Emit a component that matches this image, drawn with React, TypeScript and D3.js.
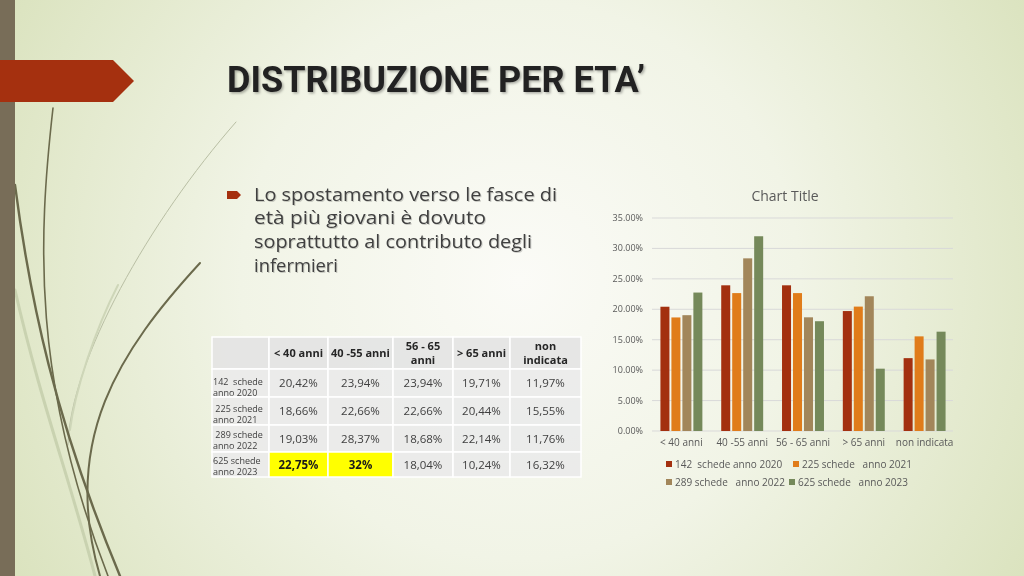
import React from "react";
import * as d3 from "d3";

const categories = ["< 40 anni", "40 -55 anni", "56 - 65 anni", "> 65 anni", "non indicata"];
const seriesNames = ["142  schede anno 2020", "225 schede   anno 2021", "289 schede   anno 2022", "625 schede   anno 2023"];
const values2020 = [20.42, 23.94, 23.94, 19.71, 11.97];
const values2021 = [18.66, 22.66, 22.66, 20.44, 15.55];
const values2022 = [19.03, 28.37, 18.68, 22.14, 11.76];
const values2023 = [22.75, 32.0, 18.04, 10.24, 16.32];
const yTicks = [0, 5, 10, 15, 20, 25, 30, 35];
const tableHeader = [["< 40 anni"], ["40 -55 anni"], ["56 - 65", "anni"], ["> 65 anni"], ["non", "indicata"]];
const tableRowLabels = [["142  schede", "anno 2020"], [" 225 schede", "anno 2021"], [" 289 schede", "anno 2022"], ["625 schede", "anno 2023"]];
const tableCells = [
  ["20,42%", "23,94%", "23,94%", "19,71%", "11,97%"],
  ["18,66%", "22,66%", "22,66%", "20,44%", "15,55%"],
  ["19,03%", "28,37%", "18,68%", "22,14%", "11,76%"],
  ["22,75%", "32%", "18,04%", "10,24%", "16,32%"],
];
const highlighted = [[3, 0], [3, 1]];
const bulletLines = ["Lo spostamento verso le fasce di", "età più giovani è dovuto", "soprattutto al contributo degli", "infermieri"];

const seriesValues = [values2020, values2021, values2022, values2023];
const colors = ["#A3300F", "#E07C1A", "#A2865A", "#75895A"];
const FONT = "'Open Sans', 'DejaVu Sans', sans-serif";

export default function App() {
  const x0 = d3.scaleBand<string>().domain(categories).range([651, 955]).paddingInner(0.31).paddingOuter(0.155);
  const x1 = d3.scaleBand<number>().domain([0, 1, 2, 3]).range([0, x0.bandwidth()]).paddingInner(0.18);
  const y = d3.scaleLinear().domain([0, 35]).range([431, 218]);
  const fmt = d3.format(".2f");

  const colX = [212, 269, 328, 393, 453, 510, 581];
  const rowY = [337, 369, 397, 425, 452, 477];
  const bulletLens = [303, 232, 278, 84];
  const bulletBase = [201, 224, 248, 272];
  const labelBase = [[385, 396], [412, 423], [438, 449], [464, 475]];

  const legendPos = [
    [666, 464],
    [793, 464],
    [666, 482],
    [789, 482],
  ];

  return (
    <svg width={1024} height={576} style={{ position: "fixed", left: 0, top: 0 }} fontFamily={FONT}>
      <defs>
        <radialGradient id="bg" cx="520" cy="280" r="620" gradientUnits="userSpaceOnUse">
          <stop offset="0" stopColor="#FBFBF7" />
          <stop offset="0.45" stopColor="#F1F4E6" />
          <stop offset="1" stopColor="#D8E1BA" />
        </radialGradient>
        <filter id="tshadow" x="-5%" y="-20%" width="110%" height="140%">
          <feDropShadow dx="1.5" dy="1.5" stdDeviation="0.8" floodColor="#000" floodOpacity="0.3" />
        </filter>
        <filter id="sshadow" x="-5%" y="-20%" width="110%" height="140%">
          <feDropShadow dx="1" dy="1" stdDeviation="0.6" floodColor="#000" floodOpacity="0.18" />
        </filter>
      </defs>
      <rect x={0} y={0} width={1024} height={576} fill="url(#bg)" />

      {/* plant decoration */}
      <g fill="none" strokeLinecap="round">
        <path d="M 15 290 C 40 400, 70 480, 95 576" stroke="#C9D2B0" strokeWidth={3} />
        <path d="M 236 122 C 150 220, 70 360, 68 445" stroke="#B9BFA4" strokeWidth={1} />
        <path d="M 118 285 C 95 330, 75 390, 70 430" stroke="#CED6B8" strokeWidth={2} />
        <path d="M 53 108 C 38 240, 32 380, 108 576" stroke="#6B6A4C" strokeWidth={1.6} />
        <path d="M 15 185 C 30 300, 55 420, 120 576" stroke="#6B6A4C" strokeWidth={2.4} />
        <path d="M 200 263 C 120 350, 60 440, 100 576" stroke="#6B6A4C" strokeWidth={2} />
      </g>

      {/* left bar and red arrow */}
      <rect x={0} y={0} width={15} height={576} fill="#786D58" />
      <path d="M 0 60 L 113 60 L 134 81 L 113 102 L 0 102 Z" fill="#A5300F" />

      {/* title */}
      <text x={227} y={92} fontSize={37} fontWeight={700} fill="#242424" filter="url(#tshadow)"
        textLength={418} lengthAdjust="spacingAndGlyphs" fontFamily="Roboto, 'DejaVu Sans', sans-serif">
        DISTRIBUZIONE PER ETA’
      </text>

      {/* bullet */}
      <path d="M 227 191 L 237 191 L 241 195 L 237 199 L 227 199 Z" fill="#A5300F" />
      {bulletLines.map((l, i) => (
        <text key={i} x={254} y={bulletBase[i]} fontSize={18} fill="#404040" filter="url(#sshadow)"
          textLength={bulletLens[i]} lengthAdjust="spacingAndGlyphs">
          {l}
        </text>
      ))}

      {/* table */}
      <g>
        {rowY.slice(0, -1).map((ry, r) =>
          colX.slice(0, -1).map((cx, c) => {
            const hl = r > 0 && highlighted.some(([hr, hc]) => hr === r - 1 && hc === c - 1);
            return (
              <rect key={`${r}-${c}`} x={cx} y={ry} width={colX[c + 1] - cx} height={rowY[r + 1] - ry}
                fill={hl ? "#FFFF00" : r === 0 ? "#E3E3E3" : "#EAEAEA"} fillOpacity={hl ? 1 : 0.9}
                stroke="#FFFFFF" strokeWidth={1.5} />
            );
          })
        )}
        {tableHeader.map((lines, c) => {
          const cx = (colX[c + 1] + colX[c + 2]) / 2;
          const mid = (rowY[0] + rowY[1]) / 2;
          return lines.map((t, k) => (
            <text key={`h${c}${k}`} x={cx} y={mid + 4 + (lines.length === 2 ? (k === 0 ? -7 : 7) : 0)}
              textAnchor="middle" fontSize={11} fontWeight={700} fill="#262626">
              {t}
            </text>
          ));
        })}
        {tableRowLabels.map((lines, r) =>
          lines.map((t, k) => (
            <text key={`l${r}${k}`} x={213} y={labelBase[r][k]} fontSize={9} fill="#404040" style={{ whiteSpace: "pre" }}>
              {t}
            </text>
          ))
        )}
        {tableCells.map((row, r) =>
          row.map((t, c) => {
            const hl = highlighted.some(([hr, hc]) => hr === r && hc === c);
            return (
              <text key={`c${r}${c}`} x={(colX[c + 1] + colX[c + 2]) / 2} y={(rowY[r + 1] + rowY[r + 2]) / 2 + 4}
                textAnchor="middle" fontSize={11.5} fontWeight={hl ? 700 : 400} fill={hl ? "#1a1a1a" : "#404040"}>
                {t}
              </text>
            );
          })
        )}
      </g>

      {/* chart */}
      <text x={785} y={201} textAnchor="middle" fontSize={14} fill="#595959">Chart Title</text>
      {yTicks.map((t) => (
        <g key={t}>
          <line x1={652} x2={953} y1={y(t)} y2={y(t)} stroke="#D9D9D9" strokeWidth={1} />
          <text x={643} y={y(t) + 3} textAnchor="end" fontSize={9} fill="#595959">
            {fmt(t)}%
          </text>
        </g>
      ))}
      {categories.map((cat, ci) => (
        <g key={cat}>
          {seriesValues.map((vals, si) => (
            <rect key={si} x={(x0(cat) as number) + (x1(si) as number)} y={y(vals[ci])}
              width={x1.bandwidth()} height={y(0) - y(vals[ci])} fill={colors[si]} />
          ))}
          <text x={(x0(cat) as number) + x0.bandwidth() / 2} y={446} textAnchor="middle" fontSize={10} fill="#595959">
            {cat}
          </text>
        </g>
      ))}
      {seriesNames.map((s, i) => (
        <g key={s}>
          <rect x={legendPos[i][0]} y={legendPos[i][1] - 3} width={6} height={6} fill={colors[i]} />
          <text x={legendPos[i][0] + 9} y={legendPos[i][1] + 3.5} fontSize={10} fill="#595959" style={{ whiteSpace: "pre" }}>
            {s}
          </text>
        </g>
      ))}
    </svg>
  );
}
